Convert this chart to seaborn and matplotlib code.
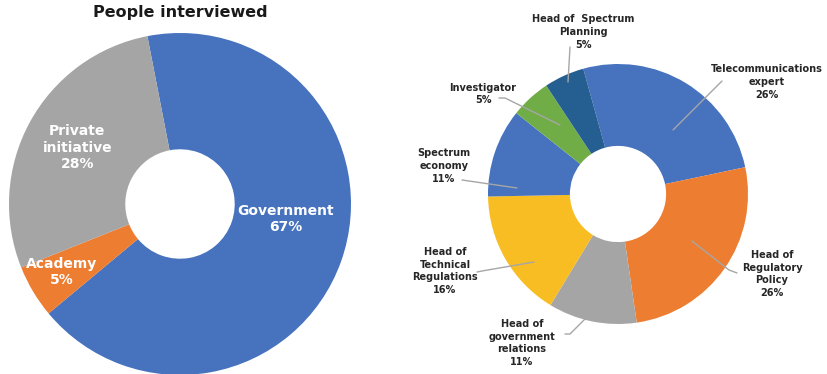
import matplotlib
matplotlib.use("Agg")
import matplotlib.pyplot as plt
import seaborn as sns
import numpy as np

# Share of people interviewed by sector
sector_labels = ["Government", "Academy", "Private\ninitiative"]
sector_pct = [67, 5, 28]
sector_colors = ["#4672BE", "#ED7D31", "#A5A5A5"]

# Share of people interviewed by role
role_labels = ["Telecommunications\nexpert", "Head of\nRegulatory\nPolicy",
               "Head of\ngovernment\nrelations", "Head of\nTechnical\nRegulations",
               "Spectrum\neconomy", "Investigator", "Head of  Spectrum\nPlanning"]
role_pct = [26, 26, 11, 16, 11, 5, 5]
role_colors = ["#4672BE", "#ED7D31", "#A5A5A5", "#F8BD22",
               "#4672BE", "#70AD47", "#255E91"]

sns.set_theme(style="white")
plt.rcParams["font.family"] = ["DejaVu Sans"]

W, H = 827, 374
fig = plt.figure(figsize=(W / 100, H / 100), dpi=100)
fig.patch.set_facecolor("white")


def px_axes(cx, cy, r):
    return fig.add_axes([(cx - r) / W, (H - cy - r) / H, 2 * r / W, 2 * r / H])


# ---- left donut ----
ax1 = px_axes(180, 204, 171)
ax1.pie(sector_pct, colors=sector_colors, startangle=101, counterclock=False,
        radius=1.0, wedgeprops=dict(width=0.68, linewidth=0))
ax1.set_xlim(-1, 1)
ax1.set_ylim(-1, 1)
ax1.set_aspect("auto")
ax1.axis("off")

left_pos = [(0.62, -0.09), (-0.69, -0.40), (-0.60, 0.33)]
for lab, pct, (x, y) in zip(sector_labels, sector_pct, left_pos):
    ax1.text(x, y, f"{lab}\n{pct}%", ha="center", va="center", color="white",
             fontsize=10, fontweight="bold", linespacing=1.2)

fig.text(180 / W, 1 - 12 / H, "People interviewed", ha="center", va="center",
         fontsize=11.5, fontweight="bold", color="#1a1a1a")

# ---- right donut ----
ax2 = px_axes(618, 194, 130)
ax2.pie(role_pct, colors=role_colors, startangle=105.5, counterclock=False,
        radius=1.0, wedgeprops=dict(width=0.63, linewidth=0))
ax2.set_xlim(-1, 1)
ax2.set_ylim(-1, 1)
ax2.set_aspect("auto")
ax2.axis("off")


def to_data(px, py):
    return ((px - 618) / 130, (194 - py) / 130)


# label centre and leader-line path (pixel positions)
role_layout = [
    ((767, 82), [(722, 81), (673, 130)]),
    ((772, 274), [(737, 273), (729, 270), (692, 241)]),
    ((522, 343), [(565, 334), (570, 334), (586, 318)]),
    ((445, 271), [(477, 272), (482, 271), (534, 262)]),
    ((444, 166), [(462, 180), (517, 188)]),
    ((483, 94), [(499, 98), (505, 98), (560, 125)]),
    ((583, 32), [(570, 47), (568, 82)]),
]

for lab, pct, (tc, path) in zip(role_labels, role_pct, role_layout):
    tx, ty = to_data(*tc)
    ax2.text(tx, ty, f"{lab}\n{pct}%", ha="center", va="center",
             color="#262626", fontsize=7, fontweight="bold", linespacing=1.35)
    pts = np.array([to_data(*p) for p in path])
    ax2.plot(pts[:, 0], pts[:, 1], color="#A6A6A6", lw=1.0, clip_on=False)

fig.savefig("out.png", dpi=100, facecolor="white")
